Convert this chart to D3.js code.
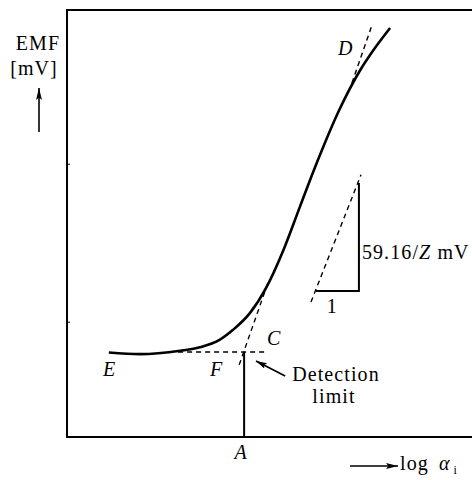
<!DOCTYPE html>
<html>
<head>
<meta charset="utf-8">
<script src="https://cdn.jsdelivr.net/npm/d3@7"></script>
<style>
  body { margin: 0; background: #fff; }
</style>
</head>
<body>
<script>
// electrode response, arbitrary units (x = log a, y = EMF)
var curveX = [1.02, 1.78, 2.76, 3.24, 3.73, 4.05, 4.46, 4.85, 5.28, 5.68, 6.10, 6.66, 7.15, 7.51, 7.88];
var curveY = [1.98, 1.94, 2.02, 2.10, 2.28, 2.51, 2.90, 3.48, 4.38, 5.39, 6.44, 7.70, 8.59, 9.11, 9.58];

// extrapolated straight parts
var lowTangent = [[4.20, 1.69], [4.90, 3.61]];
var highTangent = [[6.95, 8.29], [7.44, 9.65]];
var baseline = [[2.71, 1.99], [4.90, 1.99]];
var detectionLimit = 4.32;

// slope triangle
var slopeDash = [[5.95, 3.16], [7.17, 6.14]];
var slopeLegs = [[6.07, 3.42], [7.12, 3.42], [7.12, 5.95]];

var yTicks = [2.7, 6.4];

// point labels [text, x, y]
var pointLabels = [["D", 6.61, 8.95], ["C", 4.88, 2.15], ["E", 0.88, 1.43], ["F", 3.49, 1.43]];

var width = 472, height = 480;
var serif = "'Liberation Serif', 'Times New Roman', Times, 'DejaVu Serif', serif";

var x = d3.scaleLinear().domain([0, 10]).range([67, 477]);
var y = d3.scaleLinear().domain([0, 10]).range([437, 10]);

var svg = d3.select("body").append("svg")
  .attr("width", width)
  .attr("height", height)
  .style("font-family", serif)
  .style("font-size", "20px")
  .style("letter-spacing", "1.1px");

var defs = svg.append("defs");
function arrowMarker(id, len, w) {
  defs.append("marker")
    .attr("id", id)
    .attr("markerUnits", "userSpaceOnUse")
    .attr("markerWidth", len).attr("markerHeight", w)
    .attr("refX", len).attr("refY", w / 2)
    .attr("orient", "auto")
    .append("path")
    .attr("d", "M0,0L" + len + "," + (w / 2) + "L0," + w + "L" + (len * 0.2) + "," + (w / 2) + "Z")
    .attr("fill", "#000");
}
arrowMarker("arr", 12, 6);
arrowMarker("arrSmall", 11, 6);

// frame
svg.append("rect")
  .attr("x", x(0)).attr("y", y(10))
  .attr("width", x(10) - x(0) + 20).attr("height", y(0) - y(10))
  .attr("fill", "none").attr("stroke", "#000").attr("stroke-width", 2);

var yAxis = d3.axisLeft(y).tickValues(yTicks).tickSize(-3).tickFormat("");
svg.append("g").attr("transform", "translate(" + x(0) + ",0)").call(yAxis)
  .call(function(g) { g.select(".domain").remove(); })
  .selectAll("line").attr("stroke", "#000");

var line = d3.line()
  .x(function(d) { return x(d[0]); })
  .y(function(d) { return y(d[1]); });

var curvePts = curveX.map(function(v, i) { return [v, curveY[i]]; });
svg.append("path")
  .datum(curvePts)
  .attr("d", line.curve(d3.curveMonotoneX))
  .attr("fill", "none").attr("stroke", "#000").attr("stroke-width", 2.6);

line.curve(d3.curveLinear);

[lowTangent, highTangent, baseline, slopeDash].forEach(function(seg) {
  svg.append("path")
    .datum(seg)
    .attr("d", line)
    .attr("fill", "none").attr("stroke", "#000")
    .attr("stroke-width", 1.4).attr("stroke-dasharray", "5,4");
});

// detection limit drop line
svg.append("path")
  .datum([[detectionLimit, 0], [detectionLimit, baseline[0][1]]])
  .attr("d", line)
  .attr("fill", "none").attr("stroke", "#000").attr("stroke-width", 2);

svg.append("path")
  .datum(slopeLegs)
  .attr("d", line)
  .attr("fill", "none").attr("stroke", "#000").attr("stroke-width", 2);

// labels
svg.selectAll("text.pt")
  .data(pointLabels)
  .enter().append("text")
  .attr("class", "pt")
  .attr("x", function(d) { return x(d[1]); })
  .attr("y", function(d) { return y(d[2]); })
  .attr("font-style", "italic")
  .text(function(d) { return d[0]; });

svg.append("text")
  .attr("x", x(detectionLimit) - 3).attr("y", y(0) + 22)
  .attr("text-anchor", "middle").attr("font-style", "italic")
  .text("A");

svg.append("text")
  .attr("x", x(slopeLegs[0][0] + 0.4)).attr("y", y(slopeLegs[0][1]) + 22)
  .attr("text-anchor", "middle")
  .text("1");

var st = svg.append("text")
  .attr("x", x(slopeLegs[2][0]) + 3).attr("y", y(4.17));
st.append("tspan").text("59.16/");
st.append("tspan").attr("font-style", "italic").text("Z");
st.append("tspan").text(" mV");

// detection limit callout
svg.append("line")
  .attr("x1", x(5.32)).attr("y1", y(1.43))
  .attr("x2", x(4.61)).attr("y2", y(1.78))
  .attr("stroke", "#000").attr("stroke-width", 1.6)
  .attr("marker-end", "url(#arrSmall)");
var dl = svg.append("text").attr("text-anchor", "middle");
dl.append("tspan").attr("x", 336).attr("y", 381).text("Detection");
dl.append("tspan").attr("x", 334).attr("y", 403).text("limit");

// axis titles
svg.append("text").attr("x", 38).attr("y", 50).attr("text-anchor", "middle").text("EMF");
svg.append("text").attr("x", 34).attr("y", 75).attr("text-anchor", "middle").text("[mV]");
svg.append("line")
  .attr("x1", 39).attr("y1", 132).attr("x2", 39).attr("y2", 88)
  .attr("stroke", "#000").attr("stroke-width", 1.6)
  .attr("marker-end", "url(#arr)");

svg.append("line")
  .attr("x1", 350).attr("y1", 466).attr("x2", 398).attr("y2", 466)
  .attr("stroke", "#000").attr("stroke-width", 1.6)
  .attr("marker-end", "url(#arr)");
var lx = svg.append("text").attr("x", 400).attr("y", 470);
lx.append("tspan").text("log ");
lx.append("tspan").attr("dx", 4).attr("font-style", "italic").text("α");
lx.append("tspan").attr("dx", 3).attr("dy", 4).attr("font-size", 12).text("i");
</script>
</body>
</html>
